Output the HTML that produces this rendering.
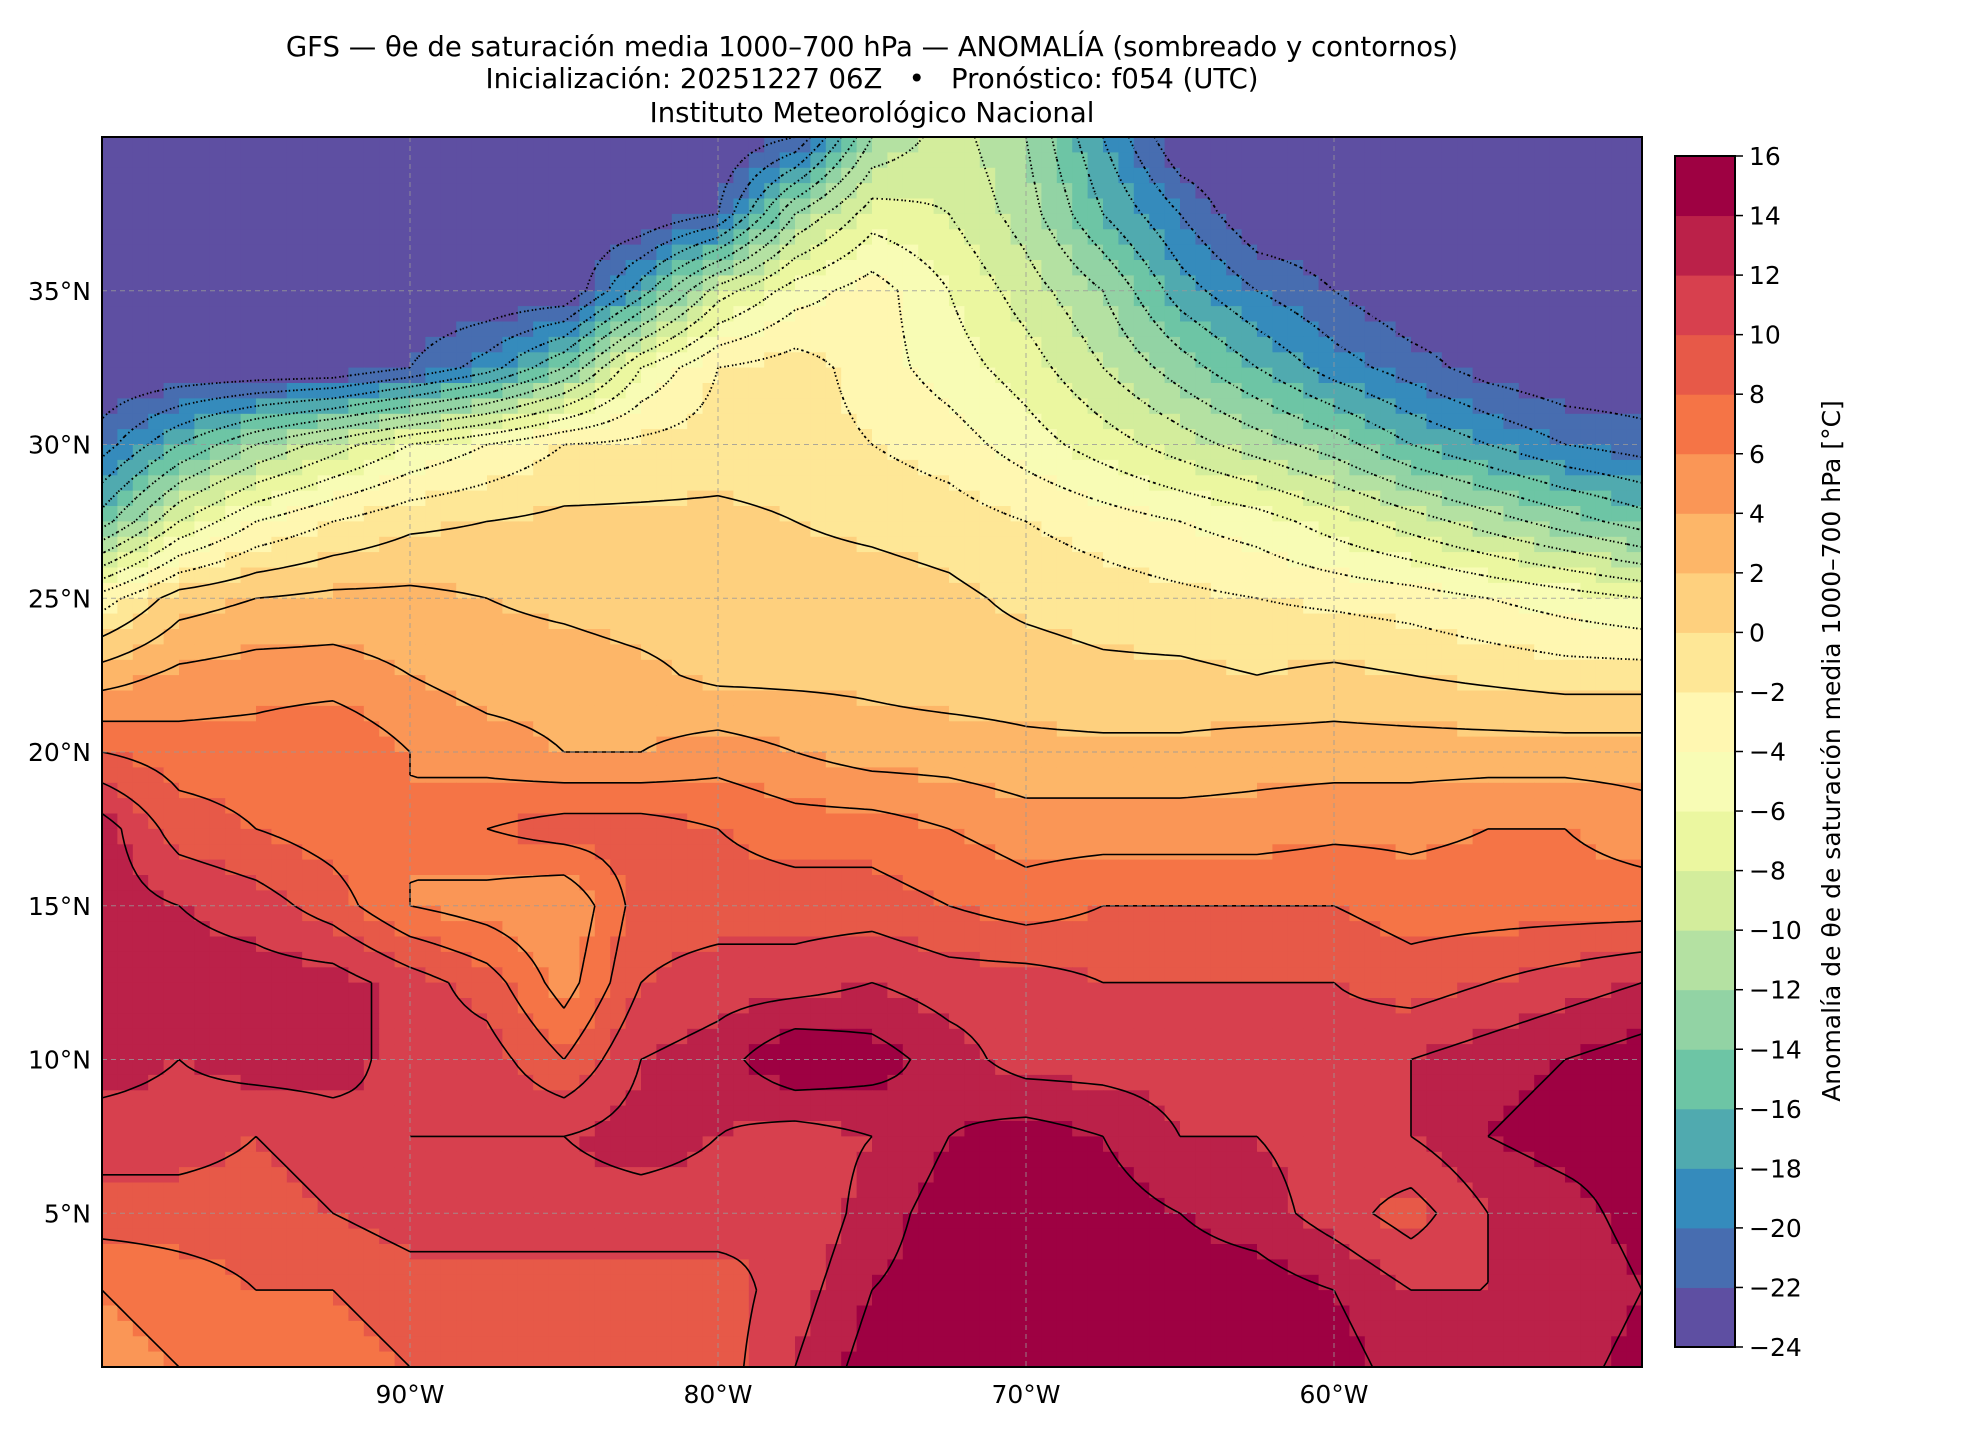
<!DOCTYPE html>
<html><head><meta charset="utf-8"><style>
body{margin:0;background:#fff;}
svg{display:block;font-family:"DejaVu Sans","Liberation Sans",sans-serif;}
</style></head><body>
<svg id="fig" width="1980" height="1440" viewBox="0 0 1980 1440">
<g font-size="27.5" text-anchor="middle" fill="#000">
<text x="872" y="56">GFS — θe de saturación media 1000–700 hPa — ANOMALÍA (sombreado y contornos)</text>
<text x="872" y="88">Inicialización: 20251227 06Z &#160; • &#160; Pronóstico: f054 (UTC)</text>
<text x="872" y="122">Instituto Meteorológico Nacional</text>
</g>
<g id="plot"></g>
<g id="cbar"></g>
<text x="0" y="0" font-size="25" text-anchor="middle" transform="translate(1840,751) rotate(-90)">Anomalía de θe de saturación media 1000–700 hPa [°C]</text>
</svg>
<script>
// ---- data ----
const lons=[-100,-97.5,-95,-92.5,-90,-87.5,-85,-82.5,-80,-77.5,-75,-72.5,-70,-67.5,-65,-62.5,-60,-57.5,-55,-52.5,-50];
const lats=[40,37.5,35,32.5,30,27.5,25,22.5,20,17.5,15,12.5,10,7.5,5,2.5,0];
const anom=[
[-24,-24,-24,-24,-24,-24,-24,-24,-24,-22,-12,-9,-12,-18,-24,-24,-24,-24,-24,-24,-24],
[-24,-24,-24,-24,-24,-24,-24,-24,-22,-12,-7,-8,-11,-16,-20,-24,-24,-24,-24,-24,-24],
[-24,-24,-24,-24,-24,-24,-24,-17,-9,-5,-3,-6,-9,-12,-17,-20,-22,-24,-24,-24,-24],
[-24,-24,-24,-24,-22,-19,-14,-6,-2,-1,-3,-5,-7,-10,-13,-16,-19,-21,-23,-24,-24],
[-21,-16,-12,-9,-6,-4,-2,-1.5,-1,-1,-2,-3,-5,-7,-9,-11,-13,-16,-18,-20,-21],
[-15,-8,-4,-2,-0.5,0,0.5,0.5,0.5,0,-0.5,-1,-2,-3,-4,-5,-7,-9,-11,-13,-15],
[-3,1,2,2.5,2.5,2,1.5,1,1,1,1,0.5,-0.5,-1,-1.5,-2,-2.5,-3,-4,-5,-6],
[3,4.5,5,5,4,3,3,2.5,1.5,1.5,1.5,1,1,0.5,0.5,0,0.5,0,-0.5,-1,-1],
[8,7,7,8,6,5,4,4,5,4,3,3,2.5,2.5,2.5,3,3,3,3,3,3],
[13,9,8,7,6,8,9,9,8,7,7,6,5,5,5,5,5.5,5.5,6,6,5],
[13,12,11,9,6,5,4,9,9,9,9,8,7,8,8,8,8,7,7,7,7],
[13,13,13,13,11,9,5,10,11,11,12,11,11,10,10,10,10,9,10,11,12],
[13,12,13,13,11,11,8,12,13,16,15,13,11,11,11,11,11,12,13,14,15],
[11,11,10,11,12,12,12,13,12,11,12,14,15,14,12,12,11,12,14,15,15],
[9,9,9,10,11,11,11,11,11,10,13,15,15,15,14,13,11,9,12,13,15],
[6,7,8,8,9,9,9,9,9,11,14,15,15,15,15,15,14,12,12,12,14],
[5,6,7,7,8,8,8,8,9,12,15,15,15,15,15,15,15,13,12,13,15]
];
const levels=[-24,-22,-20,-18,-16,-14,-12,-10,-8,-6,-4,-2,0,2,4,6,8,10,12,14,16];
const lonTicks=[-90,-80,-70,-60];
const latTicks=[5,10,15,20,25,30,35];

// ---- layout ----
const L=102,T=137,R=1642,B=1367;
const xS=lon=>L+(lon+100)/50*(R-L);
const yS=lat=>T+(40-lat)/40*(B-T);
const NS='http://www.w3.org/2000/svg';
function mk(tag,attrs,parent){const e=document.createElementNS(NS,tag);for(const k in attrs)e.setAttribute(k,attrs[k]);parent.appendChild(e);return e;}
const knots=['#5e4fa2','#3288bd','#66c2a5','#abdda4','#e6f598','#ffffbf','#fee08b','#fdae61','#f46d43','#d53e4f','#9e0142'];
function hx(c){return [1,3,5].map(i=>parseInt(c.substr(i,2),16));}
function cmap(t){const p=t*10,i=Math.min(9,Math.floor(p)),f=p-i;const a=hx(knots[i]),b=hx(knots[i+1]);return 'rgb('+a.map((v,k)=>Math.round(v+(b[k]-v)*f)).join(',')+')';}
const bandColors=[];for(let i=0;i<20;i++)bandColors.push(cmap(i/19));
function band(v){let i=Math.floor((v+24)/2);return Math.max(0,Math.min(19,i));}
function val(lon,lat){
  const fx=(lon+100)/2.5, fy=(40-lat)/2.5;
  const i=Math.max(0,Math.min(19,Math.floor(fx))), j=Math.max(0,Math.min(15,Math.floor(fy)));
  const u=fx-i,w=fy-j;
  return anom[j][i]*(1-u)*(1-w)+anom[j][i+1]*u*(1-w)+anom[j+1][i]*(1-u)*w+anom[j+1][i+1]*u*w;
}
const plot=document.getElementById('plot');
const clip=mk('clipPath',{id:'pc'},mk('defs',{},plot));mk('rect',{x:L,y:T,width:R-L,height:B-T},clip);
const field=mk('g',{'clip-path':'url(#pc)'},plot);


const st=0.5;
for(let lat=40;lat>0;lat-=st){for(let lon=-100;lon<-50;lon+=st){
  const v=val(lon+st/2,lat-st/2);
  const r=mk('rect',{x:xS(lon).toFixed(1),y:yS(lat).toFixed(1),width:(xS(lon+st)-xS(lon)+0.6).toFixed(1),height:(yS(lat-st)-yS(lat)+0.6).toFixed(1),fill:bandColors[band(v)]},field);
  
  
}}
// contours via marching squares
const cg=mk('g',{'clip-path':'url(#pc)',fill:'none',stroke:'#000'},plot);


const cs=0.25;const nx=Math.round(50/cs),ny=Math.round(40/cs);
const G=[];for(let j=0;j<=ny;j++){G.push([]);for(let i=0;i<=nx;i++)G[j].push(val(-100+i*cs,40-j*cs));}
for(let li=1;li<levels.length-1;li++){
  const lv=levels[li];let d='';
  for(let j=0;j<ny;j++)for(let i=0;i<nx;i++){
    const a=G[j][i],b=G[j][i+1],c=G[j+1][i+1],e=G[j+1][i];
    const pts=[];
    const X=k=>xS(-100+k*cs),Y=k=>yS(40-k*cs);
    if((a<lv)!==(b<lv)){const t=(lv-a)/(b-a);pts.push([X(i+t),Y(j)]);}
    if((b<lv)!==(c<lv)){const t=(lv-b)/(c-b);pts.push([X(i+1),Y(j+t)]);}
    if((e<lv)!==(c<lv)){const t=(lv-e)/(c-e);pts.push([X(i+t),Y(j+1)]);}
    if((a<lv)!==(e<lv)){const t=(lv-a)/(e-a);pts.push([X(i),Y(j+t)]);}
    if(pts.length>=2)d+='M'+pts[0][0].toFixed(1)+' '+pts[0][1].toFixed(1)+'L'+pts[1][0].toFixed(1)+' '+pts[1][1].toFixed(1);
    if(pts.length===4)d+='M'+pts[2][0].toFixed(1)+' '+pts[2][1].toFixed(1)+'L'+pts[3][0].toFixed(1)+' '+pts[3][1].toFixed(1);
  }
  const p=mk('path',{d:d,'stroke-width':lv<0?1.8:1.6,'stroke-dasharray':lv<0?'1.5 3':'none'},cg);
  
  
}
// gridlines
const gg=mk('g',{stroke:'#999','stroke-width':1,'stroke-dasharray':'5 4',opacity:0.8},plot);


lonTicks.forEach(lo=>{const l=mk('line',{x1:xS(lo),x2:xS(lo),y1:T,y2:B},gg);});
latTicks.forEach(la=>{const l=mk('line',{x1:L,x2:R,y1:yS(la),y2:yS(la)},gg);});
const fr=mk('rect',{x:L,y:T,width:R-L,height:B-T,fill:'none',stroke:'#000','stroke-width':2},plot);


lonTicks.forEach(lo=>{const t=mk('text',{x:xS(lo),y:1403,'font-size':25,'text-anchor':'middle'},plot);t.textContent=Math.abs(lo)+'°W';});
latTicks.forEach(la=>{const t=mk('text',{x:91,y:yS(la)+9,'font-size':25,'text-anchor':'end'},plot);t.textContent=la+'°N';});
// colorbar
const cb=document.getElementById('cbar');const CL=1675,CR=1735,CT=156,CB=1347;
const cy=v=>CB-(v+24)/40*(CB-CT);
for(let i=0;i<20;i++){const r=mk('rect',{x:CL,y:cy(levels[i+1]),width:CR-CL,height:cy(levels[i])-cy(levels[i+1])+0.5,fill:bandColors[i]},cb);}
const cf=mk('rect',{x:CL,y:CT,width:CR-CL,height:CB-CT,fill:'none',stroke:'#000','stroke-width':2},cb);


levels.forEach(lv=>{const y=cy(lv);mk('line',{x1:CR,x2:CR+8,y1:y,y2:y,stroke:'#000','stroke-width':1.5},cb);
 const t=mk('text',{x:CR+14,y:y+9,'font-size':25},cb);t.textContent=(lv<0?'−'+Math.abs(lv):lv);});
</script>
</body></html>
